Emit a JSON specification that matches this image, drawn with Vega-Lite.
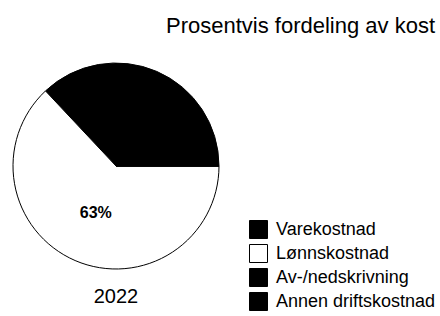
{
  "$schema": "https://vega.github.io/schema/vega-lite/v6.json",
  "autosize": {"type": "pad"},
  "padding": {"left": 11, "top": 15, "right": 0, "bottom": 0},
  "background": "white",
  "title": {
    "text": "Prosentvis fordeling av kost",
    "anchor": "start",
    "frame": "group",
    "dx": 153,
    "offset": 23,
    "font": "Liberation Sans",
    "fontSize": 22,
    "fontWeight": "normal",
    "color": "black"
  },
  "data": {
    "values": [
      {"aar": "2022", "kategori": "Varekostnad", "andel": 0.37},
      {"aar": "2022", "kategori": "Lønnskostnad", "andel": 0.63},
      {"aar": "2022", "kategori": "Av-/nedskrivning", "andel": 0},
      {"aar": "2022", "kategori": "Annen driftskostnad", "andel": 0}
    ]
  },
  "facet": {
    "column": {
      "field": "aar",
      "type": "nominal",
      "header": {
        "title": null,
        "labelOrient": "bottom",
        "labelFont": "Liberation Sans",
        "labelFontSize": 20,
        "labelColor": "black",
        "labelPadding": 16
      }
    }
  },
  "spec": {
    "width": 206,
    "height": 206,
    "layer": [
      {
        "mark": {"type": "arc", "stroke": "black", "strokeWidth": 1},
        "encoding": {
          "theta": {"field": "andel", "type": "quantitative", "stack": true, "scale": {"range": [1.5708, 7.854]}},
          "order": {"field": "kategori", "type": "nominal", "sort": "ascending"},
          "color": {
            "field": "kategori",
            "type": "nominal",
            "scale": {
              "domain": ["Varekostnad", "Lønnskostnad", "Av-/nedskrivning", "Annen driftskostnad"],
              "range": ["black", "white", "black", "black"]
            },
            "legend": {
              "title": null,
              "orient": "none",
              "legendX": 236,
              "legendY": 157,
              "padding": 0,
              "symbolType": "square",
              "symbolSize": 324,
              "symbolStrokeColor": "black",
              "symbolStrokeWidth": 1,
              "labelFont": "Liberation Sans",
              "labelFontSize": 18,
              "labelColor": "black",
              "labelOffset": 8,
              "rowPadding": 1,
              "labelLimit": 300
            }
          }
        }
      },
      {
        "transform": [{"filter": "datum.andel > 0"}],
        "mark": {"type": "text", "radius": 51, "font": "Liberation Sans", "fontSize": 16, "fontWeight": "bold", "color": "black"},
        "encoding": {
          "theta": {"field": "andel", "type": "quantitative", "stack": true, "scale": {"range": [1.5708, 7.854]}},
          "order": {"field": "kategori", "type": "nominal", "sort": "ascending"},
          "text": {"field": "andel", "type": "quantitative", "format": ".0%"}
        }
      }
    ]
  },
  "config": {"view": {"stroke": null}}
}
